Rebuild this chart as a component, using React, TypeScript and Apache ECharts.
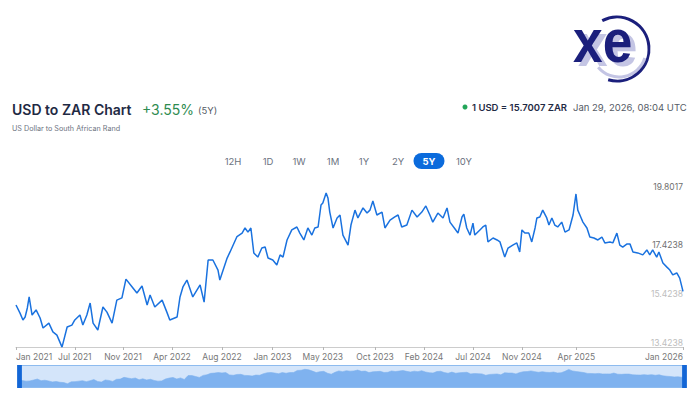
import React, { useEffect, useRef } from "react";
import * as echarts from "echarts";

// ---- data ----
const dates = [
  "2021-01-29","2021-02-09","2021-02-17","2021-02-23","2021-03-01","2021-03-06","2021-03-14","2021-03-25",
  "2021-04-05","2021-04-13","2021-04-29","2021-05-10","2021-05-21","2021-06-04","2021-06-18","2021-07-01",
  "2021-07-09","2021-07-23","2021-07-31","2021-08-11","2021-08-20","2021-08-28","2021-09-10","2021-09-24",
  "2021-10-05","2021-10-19","2021-11-01","2021-11-15","2021-11-26","2021-12-13","2021-12-26","2022-01-09",
  "2022-01-23","2022-01-31","2022-02-13","2022-03-05","2022-03-18","2022-03-26","2022-04-15","2022-04-23",
  "2022-05-01","2022-05-12","2022-05-28","2022-06-17","2022-06-28","2022-07-09","2022-07-22","2022-08-05",
  "2022-08-10","2022-08-30","2022-09-07","2022-09-26","2022-10-10","2022-10-18","2022-10-26","2022-11-03",
  "2022-11-11","2022-11-22","2022-12-03","2022-12-12","2022-12-20","2023-01-02","2023-01-13","2023-01-22",
  "2023-01-30","2023-02-10","2023-02-23","2023-03-09","2023-03-17","2023-03-28","2023-04-08","2023-04-19",
  "2023-04-27","2023-05-06","2023-05-14","2023-05-19","2023-05-28","2023-06-02","2023-06-07","2023-06-16",
  "2023-06-27","2023-07-05","2023-07-13","2023-07-27","2023-08-04","2023-08-15","2023-08-23","2023-09-06",
  "2023-09-17","2023-09-25","2023-10-03","2023-10-14","2023-10-28","2023-11-05","2023-11-19","2023-12-02",
  "2023-12-11","2023-12-21","2024-01-04","2024-01-18","2024-02-01","2024-02-14","2024-02-25","2024-03-07",
  "2024-03-15","2024-03-29","2024-04-12","2024-04-23","2024-05-01","2024-05-15","2024-05-23","2024-06-03",
  "2024-06-08","2024-06-16","2024-06-25","2024-07-03","2024-07-08","2024-07-22","2024-07-30","2024-08-07",
  "2024-08-13","2024-08-27","2024-09-07","2024-09-15","2024-09-28","2024-10-07","2024-10-20","2024-10-31",
  "2024-11-08","2024-11-14","2024-11-22","2024-12-03","2024-12-11","2024-12-20","2024-12-25","2025-01-02",
  "2025-01-10","2025-01-21","2025-01-27","2025-02-04","2025-02-12","2025-02-20","2025-03-03","2025-03-12",
  "2025-03-23","2025-04-03","2025-04-11","2025-04-16","2025-04-24","2025-04-30","2025-05-11","2025-05-19",
  "2025-05-30","2025-06-10","2025-06-21","2025-06-29","2025-07-13","2025-07-21","2025-08-01","2025-08-09",
  "2025-08-17","2025-08-28","2025-09-06","2025-09-14","2025-09-27","2025-10-11","2025-10-22","2025-10-30",
  "2025-11-07","2025-11-18","2025-11-24","2025-12-05","2025-12-16","2025-12-24","2026-01-01","2026-01-12",
  "2026-01-20","2026-01-29",
];

const rates = [
  15.14,14.81,14.53,14.65,15.02,15.47,14.73,14.94,
  14.61,14.2,14.4,14.04,13.91,13.42,14.24,14.32,
  14.53,14.73,14.32,14.73,15.22,14.4,14.12,15.06,
  14.85,14.4,15.34,15.43,16.2,15.88,15.63,15.92,
  15.14,15.55,15.06,15.34,14.85,14.53,14.65,15.47,
  15.88,16.16,15.47,15.96,15.26,16.98,16.98,16.57,
  16.16,17.06,17.31,17.94,18.08,18.29,18.12,18.29,
  17.27,17.1,17.47,17.51,17.06,16.98,16.78,17.19,
  17.1,17.8,18.21,18.33,18.08,17.8,18.29,18.0,
  18.29,18.33,19.23,19.31,19.72,19.52,18.94,18.29,
  18.7,18.82,18.0,17.59,18.41,19.02,18.7,19.11,
  18.9,19.02,19.39,18.82,18.94,18.29,18.61,18.74,
  18.82,18.33,18.41,19.02,18.74,18.94,19.19,18.82,
  18.53,18.9,18.7,19.11,18.53,18.25,18.08,18.74,
  18.86,18.29,18.0,18.49,18.0,18.21,18.33,18.41,
  17.72,17.88,17.8,17.72,17.1,17.47,17.59,17.68,
  17.31,18.21,18.08,18.08,17.72,18.29,18.7,18.74,
  19.02,18.7,18.41,18.7,18.41,18.33,18.53,18.12,
  18.21,18.82,19.68,19.02,18.74,18.53,18.29,17.92,
  17.88,17.8,17.92,17.68,17.72,17.68,18.08,17.59,
  17.51,17.63,17.63,17.31,17.27,17.19,17.39,17.19,
  17.39,17.1,17.31,16.86,16.69,16.57,16.37,16.45,
  16.24,15.7,
];

const tickDates = [
  "2021-01-29","2021-07-09","2021-11-18","2022-04-01","2022-08-16","2023-01-01","2023-05-19",
  "2023-10-09","2024-02-20","2024-07-03","2024-11-14","2025-04-12","2026-01-29",
];
const tickLabels = [
  "Jan 2021","Jul 2021","Nov 2021","Apr 2022","Aug 2022","Jan 2023","May 2023",
  "Oct 2023","Feb 2024","Jul 2024","Nov 2024","Apr 2025","Jan 2026",
];
const yTicks = [13.4238, 15.4238, 17.4238, 19.8017];
const yMin = 13.4238;
const yMax = 19.8017;

const rangeButtons = ["12H", "1D", "1W", "1M", "1Y", "2Y", "5Y", "10Y"];
const activeRange = "5Y";

const titleText = "USD to ZAR Chart";
const changeText = "+3.55%";
const periodText = "(5Y)";
const subtitleText = "US Dollar to South African Rand";
const rateText = "1 USD = 15.7007 ZAR";
const timeText = "Jan 29, 2026, 08:04 UTC";

function ts(d: string): number {
  const [y, m, dd] = d.split("-").map(Number);
  return Date.UTC(y, m - 1, dd);
}

const FONT = "Inter, 'Noto Sans', sans-serif";
const LOGO_FONT = "bold 62px 'Liberation Sans', Arial, sans-serif";

export default function App() {
  const ref = useRef<HTMLDivElement>(null);

  useEffect(() => {
    if (!ref.current) return;
    const chart = echarts.init(ref.current, null, { renderer: "svg" });
    const tickTs = tickDates.map(ts);
    const seriesData = dates.map((d, i) => [ts(d), rates[i]]);

    const btnX = [233, 268, 299, 333, 364, 398, 429, 464];
    const buttons: any[] = [];
    rangeButtons.forEach((b, i) => {
      if (b === activeRange) {
        buttons.push({
          type: "rect",
          shape: { x: btnX[i] - 15.5, y: 153, width: 31, height: 16, r: 8 },
          style: { fill: "#0b6bdc" },
        });
      }
      buttons.push({
        type: "text",
        x: btnX[i],
        y: 161,
        style: {
          text: b,
          font: `${b === activeRange ? "bold " : ""}9.5px ${FONT}`,
          fill: b === activeRange ? "#ffffff" : "#6b7280",
          align: "center",
          verticalAlign: "middle",
        },
      });
    });

    const labelFor = (v: number) => {
      let best = 0;
      let bd = Infinity;
      tickTs.forEach((t, i) => {
        const dd = Math.abs(t - v);
        if (dd < bd) { bd = dd; best = i; }
      });
      return tickLabels[best];
    };

    const option: any = {
      animation: false,
      backgroundColor: "#ffffff",
      grid: { left: 16, right: 17, top: 191, bottom: 47, containLabel: false },
      xAxis: {
        type: "value",
        min: ts(dates[0]),
        max: ts(dates[dates.length - 1]),
        axisLine: { show: true, onZero: false, lineStyle: { color: "#cccccc", width: 1 } },
        axisTick: { show: true, customValues: tickTs, length: 3, lineStyle: { color: "#b5b5b5" } },
        splitLine: { show: false },
        axisLabel: {
          customValues: tickTs,
          formatter: (v: number) => labelFor(v),
          color: "#777777",
          fontSize: 8.5,
          fontFamily: FONT,
          margin: 5,
          showMinLabel: true,
          showMaxLabel: true,
          hideOverlap: false,
          alignMinLabel: "left",
          alignMaxLabel: "right",
        },
      },
      yAxis: {
        type: "value",
        position: "right",
        min: yMin,
        max: yMax,
        splitLine: { show: false },
        axisLine: { show: false },
        axisTick: { show: false },
        axisLabel: {
          inside: true,
          customValues: yTicks,
          formatter: (v: number) => (v < 16 ? `{l|${v.toFixed(4)}}` : `{d|${v.toFixed(4)}}`),
          verticalAlign: "bottom",
          margin: 0,
          fontSize: 8.5,
          fontFamily: FONT,
          rich: {
            d: { color: "#6f6f6f", fontSize: 8.5, fontFamily: FONT },
            l: { color: "#bdbdbd", fontSize: 8.5, fontFamily: FONT },
          },
        },
      },
      dataZoom: [
        {
          type: "slider",
          xAxisIndex: 0,
          start: 0,
          end: 100,
          left: 16,
          right: 17,
          top: 365,
          height: 23,
          showDetail: false,
          brushSelect: false,
          moveHandleSize: 0,
          backgroundColor: "#d9e8fb",
          borderColor: "#8dbbef",
          fillerColor: "rgba(205,225,250,0.4)",
          handleIcon: "path://M0,0H5V24H0Z",
          handleSize: "100%",
          handleStyle: { color: "#1366d6", borderColor: "#1366d6", borderWidth: 0 },
          dataBackground: {
            lineStyle: { color: "#4b93e8", width: 0.6, opacity: 1 },
            areaStyle: { color: "#4b93e8", opacity: 1 },
          },
          selectedDataBackground: {
            lineStyle: { color: "#4b93e8", width: 0.6, opacity: 1 },
            areaStyle: { color: "#4b93e8", opacity: 1 },
          },
        },
      ],
      series: [
        {
          type: "line",
          data: seriesData,
          showSymbol: false,
          symbol: "none",
          silent: true,
          lineStyle: { color: "#1a72df", width: 1.5 },
        },
      ],
      graphic: [
        // XE logo
        {
          type: "text",
          x: 578,
          y: 45,
          scaleX: 0.86,
          style: { text: "xe", font: LOGO_FONT, fill: "#c4c5e4", verticalAlign: "middle" },
        },
        {
          type: "arc",
          shape: { cx: 619, cy: 50, r: 27, startAngle: 0.3, endAngle: 2.45, clockwise: true },
          style: { stroke: "#c4c5e4", lineWidth: 3, fill: null },
        },
        {
          type: "arc",
          shape: { cx: 617, cy: 49, r: 32, startAngle: -2.05, endAngle: 1.85, clockwise: true },
          style: { stroke: "#1b1f7c", lineWidth: 3, fill: null },
        },
        {
          type: "text",
          x: 573,
          y: 41,
          scaleX: 0.86,
          style: { text: "xe", font: LOGO_FONT, fill: "#1b1f7c", verticalAlign: "middle" },
        },
        // header
        {
          type: "text",
          x: 12,
          y: 109,
          style: { text: titleText, font: `600 14px ${FONT}`, fill: "#1f2a44", verticalAlign: "middle" },
        },
        {
          type: "text",
          x: 142,
          y: 109,
          style: { text: changeText, font: `14px ${FONT}`, fill: "#2e8b50", verticalAlign: "middle" },
        },
        {
          type: "text",
          x: 198,
          y: 110,
          style: { text: periodText, font: `9.5px ${FONT}`, fill: "#555b66", verticalAlign: "middle" },
        },
        {
          type: "text",
          x: 12,
          y: 128,
          style: { text: subtitleText, font: `7.2px ${FONT}`, fill: "#6b7280", verticalAlign: "middle" },
        },
        {
          type: "circle",
          shape: { cx: 465, cy: 107, r: 2.5 },
          style: { fill: "#22a558" },
        },
        {
          type: "text",
          x: 472,
          y: 107,
          style: { text: rateText, font: `600 9.5px ${FONT}`, fill: "#1f2a44", verticalAlign: "middle" },
        },
        {
          type: "text",
          x: 573,
          y: 107,
          style: { text: timeText, font: `9.5px ${FONT}`, fill: "#555b66", verticalAlign: "middle" },
        },
        ...buttons,
      ],
    };

    chart.setOption(option);
    return () => chart.dispose();
  }, []);

  return (
    <div
      ref={ref}
      style={{ position: "fixed", left: 0, top: 0, width: 700, height: 394, background: "#fff" }}
    />
  );
}
